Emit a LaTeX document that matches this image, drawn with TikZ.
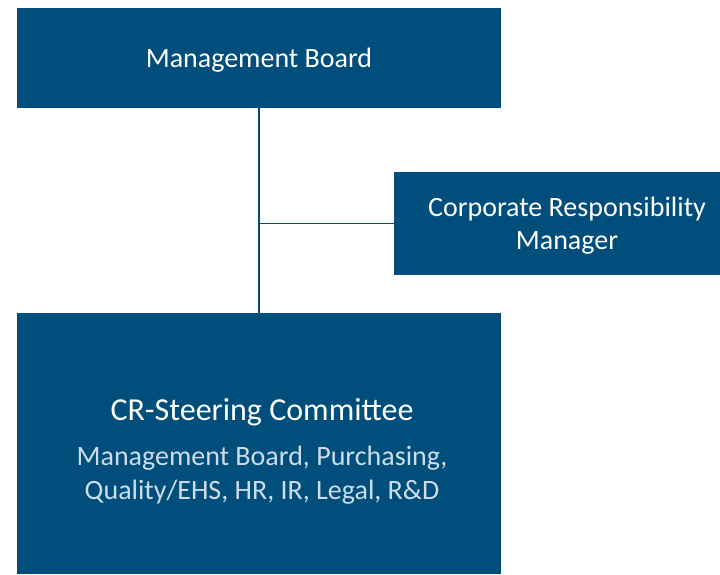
\documentclass[tikz,border=0pt]{standalone}
\usepackage{fontspec}
\setmainfont{Carlito}
\usetikzlibrary{positioning,calc}
\definecolor{boardblue}{RGB}{0,78,124}
\definecolor{memberbg}{RGB}{205,220,232}
\tikzset{
  orgbox/.style={
    draw=none, fill=boardblue, inner sep=0pt,
    align=center, text=white, text depth=0pt,
    font=\fontsize{28}{33}\selectfont
  },
  orgline/.style={
    draw=boardblue, line width=1.8pt
  },
  memberlist/.style={
    font=\fontsize{28}{34}\selectfont\color{memberbg},
    align=center, inner sep=0pt
  },
}
\begin{document}
\begin{tikzpicture}[x=1pt,y=-1pt]

  \useasboundingbox (0,0) rectangle (720,574);

  %% Boxes
  \node[orgbox, minimum width=484pt, minimum height=100pt]
    (board) at (259,58) {Management Board};
  \node[orgbox, minimum width=326pt, minimum height=103pt]
    (crm) at (557,223.5) {};
  \node[orgbox, minimum width=484pt, minimum height=261pt]
    (steer) at (259,443.5) {};

  %% Box texts
  \node[orgbox, fill=none] (crmtext) at (567,223.5)
    {Corporate Responsibility\\Manager};
  \node[orgbox, fill=none, font=\fontsize{32}{38}\selectfont]
    (steertitle) at (262,409) {CR-Steering Committee};
  \node[memberlist] (members) at (262,475)
    {Management Board, Purchasing,\\Quality/EHS, HR, IR, Legal, R\&D};

  %% Connectors
  \coordinate (join) at (board.south |- crm.west);
  \draw[orgline] (board.south) -- (steer.north);
  \draw[orgline] (crm.west) -- (join);

\end{tikzpicture}
\end{document}
